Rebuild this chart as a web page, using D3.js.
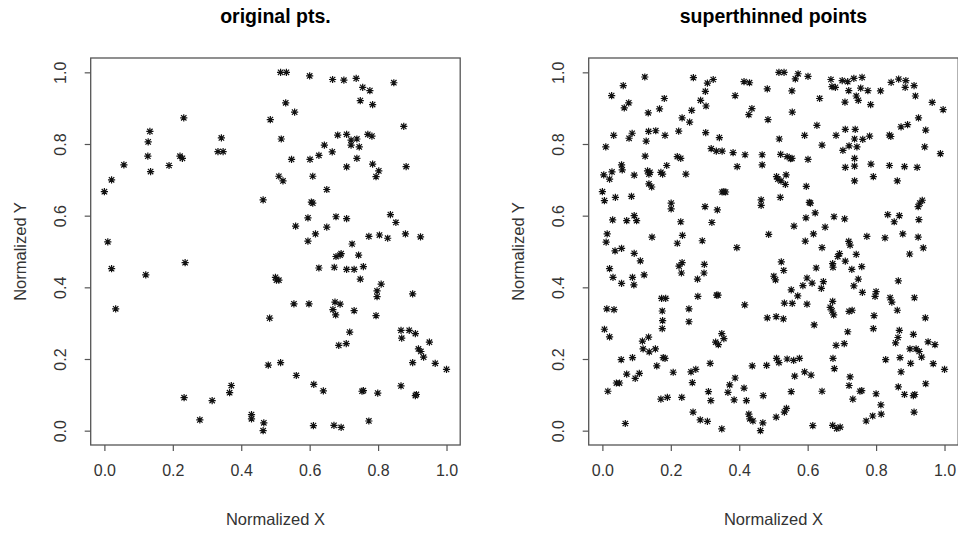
<!DOCTYPE html>
<html>
<head>
<meta charset="utf-8">
<script src="https://cdn.jsdelivr.net/npm/d3@7"></script>
<style>
	body { margin: 0; background: #fff; }
	svg { display: block; font-family: 'Liberation Sans', Arial, sans-serif; }
</style>
</head>
<body>
<script>
// values (normalized x, y)
const originalPts = [
	[0.515,1.0],[0.532,1.0],[0.60,0.99],[0.667,0.98],[0.70,0.978],[0.736,0.983],[0.755,0.958],[0.776,0.949],
	[0.846,0.971],[0.748,0.921],[0.784,0.91],[0.53,0.915],[0.556,0.889],[0.485,0.868],[0.232,0.873],[0.875,0.849],
	[0.133,0.835],[0.128,0.806],[0.127,0.766],[0.135,0.723],[0.057,0.742],[0.021,0.70],[0.0,0.667],[0.189,0.74],
	[0.221,0.766],[0.228,0.76],[0.342,0.817],[0.332,0.779],[0.347,0.779],[0.517,0.814],[0.682,0.825],[0.708,0.827],
	[0.721,0.811],[0.738,0.814],[0.721,0.797],[0.745,0.792],[0.77,0.827],[0.782,0.822],[0.643,0.797],[0.666,0.778],
	[0.627,0.768],[0.601,0.757],[0.547,0.757],[0.738,0.76],[0.708,0.736],[0.784,0.744],[0.802,0.725],[0.794,0.709],
	[0.882,0.737],[0.609,0.71],[0.51,0.71],[0.522,0.697],[0.65,0.673],[0.464,0.644],[0.605,0.638],[0.609,0.635],
	[0.595,0.594],[0.677,0.597],[0.708,0.592],[0.836,0.603],[0.852,0.581],[0.559,0.571],[0.65,0.568],[0.88,0.549],
	[0.617,0.549],[0.595,0.529],[0.773,0.542],[0.804,0.546],[0.828,0.537],[0.924,0.541],[0.01,0.527],[0.724,0.521],
	[0.677,0.486],[0.689,0.49],[0.692,0.494],[0.743,0.49],[0.757,0.458],[0.672,0.456],[0.627,0.454],[0.708,0.45],
	[0.73,0.45],[0.021,0.452],[0.236,0.469],[0.121,0.435],[0.5,0.428],[0.503,0.42],[0.51,0.42],[0.748,0.423],
	[0.809,0.409],[0.797,0.39],[0.797,0.374],[0.901,0.382],[0.554,0.354],[0.598,0.354],[0.674,0.359],[0.689,0.353],
	[0.668,0.338],[0.676,0.323],[0.73,0.335],[0.794,0.321],[0.033,0.34],[0.483,0.314],[0.717,0.275],[0.867,0.28],
	[0.891,0.28],[0.909,0.271],[0.869,0.258],[0.95,0.247],[0.707,0.243],[0.685,0.238],[0.918,0.228],[0.925,0.221],
	[0.933,0.205],[0.901,0.19],[0.967,0.188],[1.0,0.171],[0.515,0.19],[0.479,0.183],[0.561,0.154],[0.371,0.126],
	[0.366,0.106],[0.233,0.092],[0.315,0.084],[0.612,0.129],[0.64,0.111],[0.753,0.11],[0.757,0.112],[0.799,0.105],
	[0.867,0.125],[0.909,0.098],[0.912,0.101],[0.43,0.045],[0.43,0.033],[0.279,0.03],[0.466,0.022],[0.464,0.0],
	[0.611,0.014],[0.671,0.015],[0.692,0.009],[0.773,0.027]
];

const thinnedPts = [
	[0.124,0.987],[0.061,0.963],[0.266,0.985],[0.324,0.98],[0.307,0.97],[0.414,0.974],[0.43,0.971],[0.516,1.0],
	[0.531,1.0],[0.572,0.996],[0.564,0.982],[0.601,0.989],[0.668,0.98],[0.671,0.96],[0.681,0.958],[0.701,0.977],
	[0.717,0.974],[0.735,0.983],[0.759,0.986],[0.755,0.956],[0.72,0.949],[0.776,0.949],[0.813,0.948],[0.844,0.972],
	[0.866,0.981],[0.887,0.977],[0.885,0.958],[0.911,0.963],[0.482,0.954],[0.554,0.948],
	[0.027,0.935],[0.064,0.901],[0.077,0.915],[0.181,0.927],[0.167,0.898],[0.287,0.922],[0.301,0.947],[0.303,0.906],
	[0.388,0.935],[0.635,0.927],[0.742,0.934],[0.748,0.922],[0.709,0.917],[0.784,0.91],[0.915,0.934],[0.964,0.916],
	[0.996,0.896],[0.437,0.899],[0.428,0.882],[0.555,0.889],[0.134,0.887],[0.261,0.894],[0.255,0.861],[0.233,0.873],
	[0.484,0.868],[0.924,0.873],[0.627,0.852],
	[0.892,0.854],[0.873,0.848],[0.945,0.839],[0.156,0.837],[0.135,0.835],[0.033,0.824],[0.087,0.83],[0.078,0.816],
	[0.128,0.808],[0.183,0.824],[0.223,0.836],[0.302,0.832],[0.342,0.818],[0.517,0.814],[0.591,0.824],[0.683,0.824],
	[0.71,0.841],[0.739,0.841],[0.737,0.814],[0.761,0.813],[0.781,0.822],[0.839,0.825],[0.843,0.821],[0.642,0.797],
	[0.721,0.795],[0.744,0.792],[0.703,0.782],[0.942,0.792],[0.01,0.792],[0.318,0.787],[0.333,0.78],[0.35,0.78],
	[0.382,0.776],[0.417,0.77],[0.467,0.77],[0.467,0.742],[0.521,0.771],[0.54,0.765],[0.55,0.759],[0.554,0.76],
	[0.601,0.757],[0.988,0.773],[0.125,0.766],[0.219,0.765],[0.229,0.76],[0.737,0.76],[0.737,0.738],[0.71,0.735],
	[0.785,0.744],[0.839,0.74],[0.883,0.737],[0.92,0.735],[0.056,0.742],[0.058,0.728],[0.188,0.74],[0.394,0.737],
	[0.028,0.722],[0.021,0.702],[0.004,0.714],[0.093,0.713],[0.132,0.725],[0.139,0.721],[0.136,0.716],[0.171,0.721],
	[0.176,0.716],[0.244,0.716],[0.537,0.714],[0.509,0.709],[0.513,0.702],[0.522,0.697],[0.535,0.687],[0.792,0.709],
	[0.737,0.697],[0.862,0.697],[0.136,0.689],[0.144,0.68],[0.596,0.682],
	[0.0,0.667],[0.006,0.642],[0.038,0.651],[0.085,0.654],[0.355,0.667],[0.35,0.666],[0.36,0.666],[0.464,0.644],
	[0.464,0.629],[0.201,0.635],[0.201,0.619],[0.3,0.625],[0.336,0.616],[0.52,0.651],[0.605,0.637],[0.608,0.635],
	[0.935,0.643],[0.928,0.635],[0.923,0.625],[0.834,0.603],[0.868,0.6],[0.853,0.583],[0.622,0.608],[0.595,0.594],
	[0.677,0.597],[0.708,0.591],[0.925,0.589],[0.03,0.588],[0.071,0.586],[0.093,0.6],[0.1,0.586],[0.229,0.583],
	[0.32,0.581],[0.651,0.568],[0.56,0.571],
	[0.014,0.549],[0.011,0.526],[0.145,0.54],[0.234,0.545],[0.219,0.523],[0.292,0.53],[0.393,0.511],[0.486,0.548],
	[0.617,0.549],[0.593,0.529],[0.642,0.511],[0.773,0.542],[0.826,0.538],[0.878,0.549],[0.923,0.54],[0.938,0.51],
	[0.72,0.528],[0.724,0.518],[0.037,0.502],[0.056,0.509],[0.093,0.495],[0.111,0.474],[0.898,0.493],[0.693,0.494],
	[0.688,0.486],[0.742,0.492],[0.71,0.473],
	[0.021,0.452],[0.031,0.428],[0.056,0.411],[0.088,0.428],[0.092,0.407],[0.122,0.435],[0.224,0.459],[0.233,0.469],
	[0.231,0.44],[0.298,0.464],[0.297,0.44],[0.278,0.423],[0.523,0.471],[0.53,0.447],[0.501,0.431],[0.506,0.421],
	[0.625,0.454],[0.673,0.466],[0.674,0.456],[0.729,0.45],[0.758,0.458],[0.748,0.423],[0.735,0.404],[0.865,0.418],
	[0.598,0.426],[0.613,0.412],[0.586,0.405],[0.646,0.416],[0.64,0.397],[0.552,0.393],[0.76,0.386],[0.8,0.388],
	[0.173,0.369],[0.185,0.369],[0.279,0.375],[0.334,0.378],[0.338,0.378],[0.571,0.376],[0.797,0.375],[0.841,0.371],
	[0.846,0.359],[0.912,0.371],[0.673,0.361],[0.532,0.356],[0.555,0.355],[0.598,0.353],[0.416,0.351],[0.013,0.34],
	[0.034,0.338],[0.175,0.334],[0.253,0.34],[0.666,0.344],[0.671,0.334],[0.676,0.323],[0.721,0.333],[0.73,0.336],
	[0.862,0.336],[0.794,0.321],[0.482,0.315],[0.508,0.318],[0.529,0.312],[0.944,0.315],[0.176,0.307],[0.253,0.304],
	[0.619,0.295],[0.175,0.285],[0.006,0.283],[0.792,0.285],[0.868,0.28],[0.717,0.276],[0.909,0.269],[0.021,0.262],
	[0.135,0.261],[0.349,0.271],[0.355,0.257],[0.864,0.26],[0.857,0.245],[0.117,0.25],[0.331,0.247],[0.339,0.24],
	[0.707,0.243],[0.683,0.238],[0.952,0.248],[0.972,0.24],[0.119,0.228],[0.137,0.22],[0.155,0.228],[0.899,0.228],
	[0.917,0.228],[0.926,0.221],[0.933,0.205],[0.87,0.204],[0.055,0.198],[0.088,0.204],[0.178,0.204],[0.183,0.202],
	[0.509,0.202],[0.516,0.19],[0.54,0.2],[0.559,0.196],[0.576,0.202],[0.674,0.202],[0.828,0.198],
	[0.315,0.188],[0.159,0.181],[0.438,0.181],[0.48,0.182],[0.678,0.173],[0.901,0.188],[0.967,0.187],[1.0,0.171],
	[0.259,0.164],[0.273,0.171],[0.207,0.163],[0.071,0.158],[0.108,0.16],[0.591,0.164],[0.61,0.155],[0.562,0.152],
	[0.873,0.164],[0.096,0.146],[0.388,0.147],[0.724,0.15],[0.721,0.126],[0.041,0.133],[0.05,0.133],[0.263,0.134],
	[0.372,0.128],[0.945,0.131],[0.414,0.119],[0.865,0.122],
	[0.016,0.11],[0.31,0.109],[0.367,0.107],[0.552,0.109],[0.642,0.11],[0.753,0.11],[0.758,0.112],[0.8,0.103],
	[0.883,0.101],[0.909,0.098],[0.913,0.101],[0.47,0.098],[0.232,0.093],[0.171,0.088],[0.19,0.093],[0.317,0.084],
	[0.385,0.086],[0.421,0.084],[0.732,0.088],[0.814,0.072],[0.538,0.062],[0.532,0.052],[0.265,0.052],[0.911,0.052],
	[0.428,0.046],[0.815,0.046],[0.508,0.038],[0.79,0.041],[0.431,0.033],[0.286,0.03],[0.307,0.026],[0.44,0.027],
	[0.771,0.027],[0.067,0.02],[0.469,0.022],[0.349,0.005],[0.462,0.0],[0.615,0.014],[0.673,0.015],[0.685,0.006],
	[0.695,0.01]
];

const tickValues = [0, 0.2, 0.4, 0.6, 0.8, 1.0];
const panelTitles = ['original pts.', 'superthinned points'];
const axisTitles = ['Normalized X', 'Normalized Y'];

const width = 958;
const height = 533;
const boxWidth = 369.5;
const boxTop = 58;
const boxBottom = 445;
const panelLefts = [90.7, 588.7];

const svg = d3.select('body').append('svg').attr('width', width).attr('height', height);

drawPanel(panelLefts[0], panelTitles[0], originalPts);
drawPanel(panelLefts[1], panelTitles[1], thinnedPts);

function drawPanel(left, title, points) {
	const xScale = d3.scaleLinear().domain([ -0.04, 1.04 ]).range([ left, left + boxWidth ]);
	const yScale = d3.scaleLinear().domain([ -0.04, 1.04 ]).range([ boxBottom, boxTop ]);

	const g = svg.append('g');

	// points as R pch=8 asterisks
	const r = 3.6;
	const d = 2.7;
	g
		.selectAll('path.pt')
		.data(points)
		.enter()
		.append('path')
		.attr('class', 'pt')
		.attr('d', (p) => {
			const x = xScale(p[0]);
			const y = yScale(p[1]);
			return `M${x - r},${y}h${2 * r}M${x},${y - r}v${2 * r}` +
				`M${x - d},${y - d}l${2 * d},${2 * d}M${x - d},${y + d}l${2 * d},${-2 * d}`;
		})
		.attr('stroke', '#111')
		.attr('stroke-width', 1.2)
		.attr('fill', 'none');

	const xAxis = d3.axisBottom(xScale).tickValues(tickValues).tickSize(6).tickPadding(10).tickFormat(d3.format('.1f'));
	const yAxis = d3.axisLeft(yScale).tickValues(tickValues).tickSize(6).tickPadding(10).tickFormat(d3.format('.1f'));

	const gx = g.append('g').attr('transform', `translate(0, ${boxBottom})`).call(xAxis);
	gx.select('.domain').remove();
	gx.selectAll('line').attr('stroke', '#555').attr('stroke-width', 1.2);
	gx.selectAll('text').attr('font-size', 16).attr('fill', '#333').attr('y', 26).attr('dy', '0.32em');

	const gy = g.append('g').attr('transform', `translate(${left}, 0)`).call(yAxis);
	gy.select('.domain').remove();
	gy.selectAll('line').attr('stroke', '#555').attr('stroke-width', 1.2);
	gy
		.selectAll('text')
		.attr('font-size', 16)
		.attr('fill', '#333')
		.attr('x', null)
		.attr('dy', null)
		.attr('text-anchor', 'middle')
		.attr('transform', 'translate(-30.5, 0) rotate(-90)')
		.attr('dominant-baseline', 'central');

	g
		.append('rect')
		.attr('x', left)
		.attr('y', boxTop)
		.attr('width', boxWidth)
		.attr('height', boxBottom - boxTop)
		.attr('fill', 'none')
		.attr('stroke', '#555')
		.attr('stroke-width', 1.3);

	g
		.append('text')
		.attr('x', left + boxWidth / 2)
		.attr('y', 23)
		.attr('text-anchor', 'middle')
		.attr('font-size', 19.5)
		.attr('font-weight', 'bold')
		.attr('fill', '#000')
		.text(title);

	g
		.append('text')
		.attr('x', left + boxWidth / 2)
		.attr('y', 519)
		.attr('dy', '0.35em')
		.attr('text-anchor', 'middle')
		.attr('font-size', 16.5)
		.attr('fill', '#333')
		.text(axisTitles[0]);

	g
		.append('text')
		.attr('transform', `translate(${left - 70.5}, ${(boxTop + boxBottom) / 2}) rotate(-90)`)
		.attr('dy', '0.35em')
		.attr('text-anchor', 'middle')
		.attr('font-size', 16.5)
		.attr('fill', '#333')
		.text(axisTitles[1]);
}
</script>
</body>
</html>
